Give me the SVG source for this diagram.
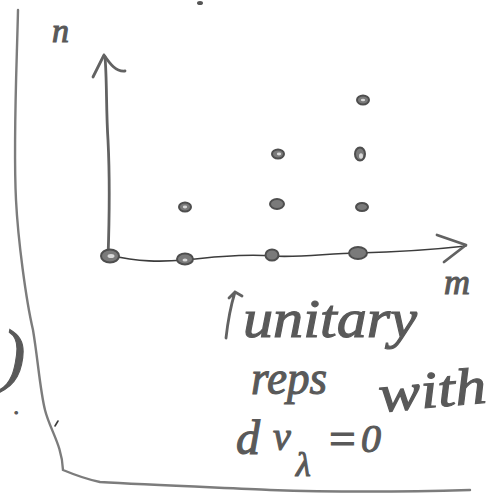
<svg xmlns="http://www.w3.org/2000/svg" width="497" height="495" viewBox="0 0 497 495">
  <defs>
    <style>
      .ink { fill: none; stroke: #626262; stroke-width: 2.8; stroke-linecap: round; stroke-linejoin: round; }
      .thin { fill: none; stroke: #3c3c3c; stroke-width: 1.6; stroke-linecap: round; }
      .edge { fill: none; stroke: #7c7c7c; stroke-width: 2.4; stroke-linecap: round; }
      .pt { fill: #7a7a7a; stroke: #4e4e4e; stroke-width: 2; }
      .hole { fill: #d8d8d8; stroke: none; }
      .hand { font-family: "Liberation Serif", "DejaVu Serif", serif; font-style: italic; fill: #595959; stroke: #595959; stroke-width: 1.1; }
    </style>
  </defs>
  <rect width="497" height="495" fill="#ffffff"/>

  <!-- page frame drawn by hand -->
  <path class="edge" d="M18,10 C17,60 13,140 16,200 C18,240 26,300 33,330 C38,360 40,390 45,410 C50,430 62,445 63,470 C75,475 90,480 100,482 C150,485 230,488 270,490 C330,492 400,492 470,490"/>

  <!-- fragment of text running off the left edge -->
  <text class="hand" x="2" y="378" font-size="70">)</text>
  <text class="hand" x="14" y="414" font-size="22">.</text>
  <path class="thin" d="M55,426 L58,421"/>
  <ellipse cx="200" cy="3" rx="3" ry="2" fill="#555"/>

  <!-- axes -->
  <g id="connectors">
    <path class="ink" d="M108,258 C109,230 110,180 108,140 C106,110 107,80 105,57"/>
    <path class="ink" d="M93,77 L104,55 M104,55 C110,64 116,72 125,71"/>
    <path class="thin" d="M108,255 C140,262 160,262 185,260 C220,256 250,254 272,256 C300,258 330,253 358,253 C400,252 430,250 466,246"/>
    <path class="ink" d="M437,235 L466,245 L444,262"/>
  </g>

  <!-- lattice points -->
  <g id="p00"><ellipse class="pt" cx="110" cy="256" rx="9" ry="6.5"/><ellipse class="hole" cx="111" cy="256" rx="3.5" ry="2"/></g>
  <g id="p10"><ellipse class="pt" cx="185" cy="259" rx="8" ry="5.5"/><ellipse class="hole" cx="185" cy="260" rx="2.5" ry="1.5"/></g>
  <g id="p20"><ellipse class="pt" cx="272" cy="255" rx="6.5" ry="5.5"/></g>
  <g id="p30"><ellipse class="pt" cx="358" cy="253" rx="9" ry="6"/></g>
  <g id="p11"><ellipse class="pt" cx="185" cy="207" rx="6" ry="4.5"/><ellipse class="hole" cx="185" cy="207" rx="2.2" ry="1.4"/></g>
  <g id="p21"><ellipse class="pt" cx="277" cy="204" rx="7" ry="5"/></g>
  <g id="p31"><ellipse class="pt" cx="362" cy="207" rx="6" ry="4"/></g>
  <g id="p22"><ellipse class="pt" cx="278" cy="154" rx="6" ry="4.5"/><ellipse class="hole" cx="279" cy="154" rx="2.2" ry="1.4"/></g>
  <g id="p32"><ellipse class="pt" cx="360" cy="154" rx="5" ry="6.5"/><ellipse class="hole" cx="361" cy="156" rx="2" ry="2.8"/></g>
  <g id="p33"><ellipse class="pt" cx="363" cy="100" rx="6" ry="4.5"/><ellipse class="hole" cx="363" cy="100" rx="2.2" ry="1.3"/></g>

  <!-- axis labels -->
  <g id="label-n"><text class="hand" x="52" y="42" font-size="34">n</text></g>
  <g id="label-m"><text class="hand" x="444" y="294" font-size="36">m</text></g>

  <!-- annotation -->
  <g id="note">
    <path class="ink" d="M226,338 C228,320 231,305 235,292 M229,298 L235,292 L242,296"/>
    <text class="hand" x="243" y="337" font-size="54" textLength="174" lengthAdjust="spacingAndGlyphs">unitary</text>
    <text class="hand" x="251" y="394" font-size="48" textLength="76" lengthAdjust="spacingAndGlyphs">reps</text>
    <text class="hand" x="380" y="412" font-size="52" textLength="108" lengthAdjust="spacingAndGlyphs" transform="rotate(-5 380 412)">with</text>
    <text class="hand" x="236" y="454" font-size="48">d</text>
    <text class="hand" x="273" y="450" font-size="40">v</text>
    <text class="hand" x="296" y="476" font-size="34">λ</text>
    <text class="hand" x="326" y="455" font-size="48" textLength="32" lengthAdjust="spacingAndGlyphs">=</text>
    <text class="hand" x="361" y="452" font-size="40">0</text>
  </g>
</svg>
